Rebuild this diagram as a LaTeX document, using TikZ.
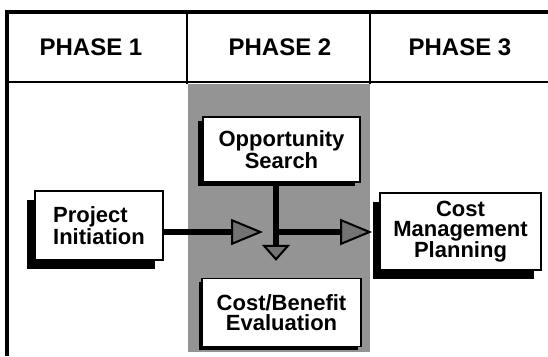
\documentclass[tikz,border=0pt]{standalone}
\usepackage{fontspec}
\setmainfont{Liberation Sans}
\usetikzlibrary{arrows.meta, shadows}
\usetikzlibrary{positioning}
\tikzstyle{phase_label} = [
    font=\fontsize{24}{28}\selectfont\bfseries,
    inner sep=0pt
]
\tikzstyle{step_box} = [
    draw=black,
    fill=white,
    line width=1.6pt,
    align=center,
    inner sep=0pt, % size comes from minimum width/height
    font=\fontsize{22}{20}\selectfont\bfseries
]
\tikzstyle{flow} = [
    line width=6.5pt,
    -{Triangle[length=32pt, width=26pt, line width=2pt, fill=black!55]}
]
\tikzstyle{flow_down} = [
    line width=6.5pt,
    -{Triangle[length=16pt, width=28pt, line width=2pt, fill=black!55]}
]
\tikzset{
    box_shadow/.style 2 args={
        drop shadow={shadow xshift=#1, shadow yshift=#2, fill=black, opacity=1}
    }
}

\begin{document}
\begin{tikzpicture}[x=1pt, y=-1pt]
\useasboundingbox (0,0) rectangle (548,356);
% shaded column
\fill[black!42] (188,84) rectangle (370,352);
% frame
\draw[line width=4pt] (5,12) -- (548,12);
\draw[line width=3.5pt] (7,10) -- (7,356);
\draw[line width=2pt] (7,82) -- (548,82);
\draw[line width=1.5pt] (187,12) -- (187,84);
\draw[line width=1.5pt] (370,12) -- (370,84);
\node [phase_label] (phase1) at (91,47) {PHASE 1};
\node [phase_label] (phase2) at (280,47) {PHASE 2};
\node [phase_label] (phase3) at (460,47) {PHASE 3};
% steps
\node [step_box, box_shadow={-5pt}{-4pt}, minimum width=157pt, minimum height=65pt]
    (opp_search) at (281.5,149.5) {Opportunity\\Search};
\node [step_box, align=left, box_shadow={-8pt}{-9pt}, minimum width=128pt, minimum height=69pt]
    (proj_init) at (99,225.5) {Project\\Initiation};
\node [step_box, box_shadow={-7pt}{-9pt}, minimum width=161pt, minimum height=77pt]
    (cost_mgmt) at (460.5,231.5) {Cost\\Management\\Planning};
\node [step_box, box_shadow={-3pt}{-3pt}, minimum width=159pt, minimum height=68pt,
    below=95pt of opp_search] (cost_benefit) {Cost/Benefit\\Evaluation};
% connectors
\coordinate (junction) at (276,232);
\draw[flow, shorten >=13pt] (proj_init.east |- junction) -- (junction);
\draw[flow_down, shorten >=17pt] (opp_search.south -| junction) -- (cost_benefit.north -| junction);
\draw[flow, shorten >=7pt] (junction) -- (cost_mgmt.west |- junction);
\end{tikzpicture}
\end{document}
